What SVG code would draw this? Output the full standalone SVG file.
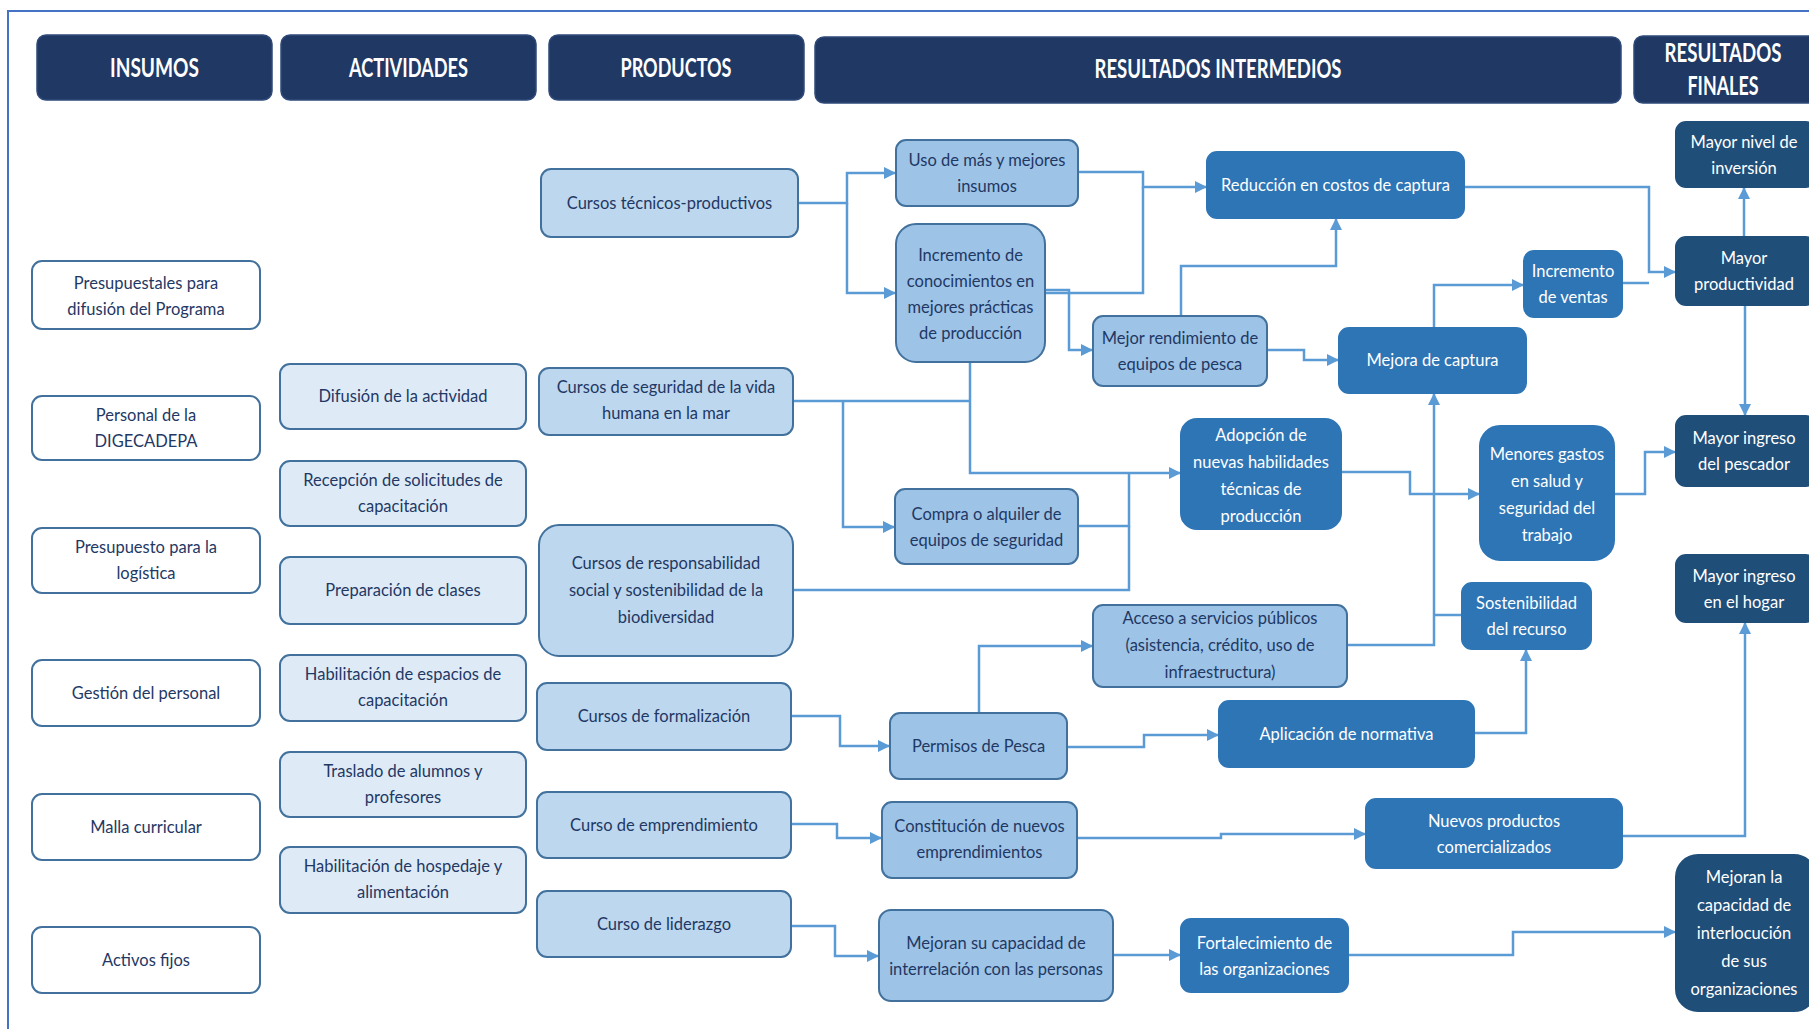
<svg xmlns="http://www.w3.org/2000/svg" width="1809" height="1029" viewBox="0 0 1809 1029">
<defs>
<style>
.hdr{fill:#203864;stroke:#2f4a7a;stroke-width:1.5}
.ht{font-family:Lato,"Liberation Sans",sans-serif;font-weight:700;font-size:26px;fill:#ffffff;text-anchor:middle}
.ins{fill:#ffffff;stroke:#41719C;stroke-width:2}
.act{fill:#DEEBF7;stroke:#41719C;stroke-width:2}
.pro{fill:#BDD7EE;stroke:#41719C;stroke-width:2}
.ril{fill:#9DC3E6;stroke:#41719C;stroke-width:2}
.rim{fill:#2E75B6;stroke:#2E75B6;stroke-width:2}
.rf{fill:#1F4E79;stroke:#1F4E79;stroke-width:2}
.t{font-family:Lato,"Liberation Sans",sans-serif;font-size:16.5px;fill:#1F3864;text-anchor:middle}
.tw{font-family:Lato,"Liberation Sans",sans-serif;font-size:16.5px;fill:#ffffff;text-anchor:middle}
.c{fill:none;stroke:#5B9BD5;stroke-width:2.5}
.ca{fill:none;stroke:#5B9BD5;stroke-width:2.5;marker-end:url(#arr)}
</style>
<marker id="arr" viewBox="0 0 10 10" refX="10" refY="5" markerWidth="12" markerHeight="12" markerUnits="userSpaceOnUse" orient="auto">
<path d="M0,0 L10,5 L0,10 z" fill="#5B9BD5"/>
</marker>
</defs>
<rect x="0" y="0" width="1809" height="1029" fill="#ffffff"/>
<rect x="8" y="11" width="1900" height="1100" fill="none" stroke="#4472C4" stroke-width="2"/>

<!-- headers -->
<g id="h-insumos"><rect class="hdr" x="37" y="35" width="235" height="65" rx="9"/><text class="ht" x="154.5" y="77" textLength="89" lengthAdjust="spacingAndGlyphs">INSUMOS</text></g>
<g id="h-actividades"><rect class="hdr" x="281" y="35" width="255" height="65" rx="9"/><text class="ht" x="408.5" y="77" textLength="119" lengthAdjust="spacingAndGlyphs">ACTIVIDADES</text></g>
<g id="h-productos"><rect class="hdr" x="549" y="35" width="255" height="65" rx="9"/><text class="ht" x="676" y="77" textLength="111" lengthAdjust="spacingAndGlyphs">PRODUCTOS</text></g>
<g id="h-intermedios"><rect class="hdr" x="815" y="37" width="806" height="66" rx="9"/><text class="ht" x="1218" y="78" textLength="247" lengthAdjust="spacingAndGlyphs">RESULTADOS INTERMEDIOS</text></g>
<g id="h-finales"><rect class="hdr" x="1634" y="36" width="190" height="67" rx="9"/><text class="ht" x="1723" y="62" textLength="117" lengthAdjust="spacingAndGlyphs">RESULTADOS</text><text class="ht" x="1723" y="95" textLength="71" lengthAdjust="spacingAndGlyphs">FINALES</text></g>

<!-- connectors -->
<g id="connectors">
<path class="ca" d="M798,203 H847 V173 H896"/>
<path class="ca" d="M847,203 V293 H896"/>
<path class="ca" d="M1078,172 H1143 V187 H1207"/>
<path class="c" d="M1045,293 H1143 V187"/>
<path class="ca" d="M1045,290 H1069 V350 H1093"/>
<path class="ca" d="M1181,316 V266 H1336 V218"/>
<path class="ca" d="M1267,350 H1304 V360 H1339"/>
<path class="ca" d="M1434,328 V285 H1524"/>
<path class="ca" d="M1464,187 H1649 V272 H1676"/>
<path class="c" d="M1622,283 H1649"/>
<path class="ca" d="M1744,237 V187"/>
<path class="ca" d="M1745,305 V416"/>
<path class="ca" d="M970,362 V473 H1181"/>
<path class="c" d="M793,401 H970"/>
<path class="ca" d="M843,401 V527 H895"/>
<path class="c" d="M1078,526 H1129 V473"/>
<path class="c" d="M793,590 H1129 V526"/>
<path class="ca" d="M1341,472 H1410 V494 H1480"/>
<path class="ca" d="M1614,494 H1645 V452 H1676"/>
<path class="ca" d="M1347,645 H1434 V393"/>
<path class="c" d="M1462,615 H1434"/>
<path class="ca" d="M979,713 V646 H1093"/>
<path class="ca" d="M791,716 H840 V746 H890"/>
<path class="ca" d="M1067,747 H1144 V735 H1219"/>
<path class="ca" d="M1474,733 H1526 V649"/>
<path class="ca" d="M791,824 H837 V838 H882"/>
<path class="ca" d="M1077,838 H1221 V834 H1366"/>
<path class="ca" d="M1622,836 H1745 V622"/>
<path class="ca" d="M791,926 H835 V956 H879"/>
<path class="ca" d="M1113,955 H1181"/>
<path class="ca" d="M1348,955 H1513 V932 H1676"/>
</g>

<!-- insumos -->
<g id="n-presupuestales"><rect class="ins" x="32" y="261" width="228" height="68" rx="10"/><text class="t" x="146" y="289">Presupuestales para</text><text class="t" x="146" y="315">difusión del Programa</text></g>
<g id="n-personal"><rect class="ins" x="32" y="396" width="228" height="64" rx="10"/><text class="t" x="146" y="421">Personal de la</text><text class="t" x="146" y="447">DIGECADEPA</text></g>
<g id="n-presupuesto"><rect class="ins" x="32" y="528" width="228" height="65" rx="10"/><text class="t" x="146" y="553">Presupuesto para la</text><text class="t" x="146" y="579">logística</text></g>
<g id="n-gestion"><rect class="ins" x="32" y="660" width="228" height="66" rx="10"/><text class="t" x="146" y="699">Gestión del personal</text></g>
<g id="n-malla"><rect class="ins" x="32" y="794" width="228" height="66" rx="10"/><text class="t" x="146" y="833">Malla curricular</text></g>
<g id="n-activos"><rect class="ins" x="32" y="927" width="228" height="66" rx="10"/><text class="t" x="146" y="966">Activos fijos</text></g>

<!-- actividades -->
<g id="n-difusion"><rect class="act" x="280" y="364" width="246" height="65" rx="10"/><text class="t" x="403" y="402">Difusión de la actividad</text></g>
<g id="n-recepcion"><rect class="act" x="280" y="461" width="246" height="65" rx="10"/><text class="t" x="403" y="486">Recepción de solicitudes de</text><text class="t" x="403" y="512">capacitación</text></g>
<g id="n-preparacion"><rect class="act" x="280" y="557" width="246" height="67" rx="10"/><text class="t" x="403" y="596">Preparación de clases</text></g>
<g id="n-espacios"><rect class="act" x="280" y="655" width="246" height="66" rx="10"/><text class="t" x="403" y="680">Habilitación de espacios de</text><text class="t" x="403" y="706">capacitación</text></g>
<g id="n-traslado"><rect class="act" x="280" y="752" width="246" height="65" rx="10"/><text class="t" x="403" y="777">Traslado de alumnos y</text><text class="t" x="403" y="803">profesores</text></g>
<g id="n-hospedaje"><rect class="act" x="280" y="847" width="246" height="66" rx="10"/><text class="t" x="403" y="872">Habilitación de hospedaje y</text><text class="t" x="403" y="898">alimentación</text></g>

<!-- productos -->
<g id="n-tecnicos"><rect class="pro" x="541" y="169" width="257" height="68" rx="10"/><text class="t" x="669.5" y="209">Cursos técnicos-productivos</text></g>
<g id="n-seguridad"><rect class="pro" x="539" y="368" width="254" height="67" rx="10"/><text class="t" x="666" y="393">Cursos de seguridad de la vida</text><text class="t" x="666" y="419">humana en la mar</text></g>
<g id="n-responsabilidad"><rect class="pro" x="539" y="525" width="254" height="131" rx="20"/><text class="t" x="666" y="569">Cursos de responsabilidad</text><text class="t" x="666" y="596">social y sostenibilidad de la</text><text class="t" x="666" y="623">biodiversidad</text></g>
<g id="n-formalizacion"><rect class="pro" x="537" y="683" width="254" height="67" rx="10"/><text class="t" x="664" y="722">Cursos de formalización</text></g>
<g id="n-emprendimiento"><rect class="pro" x="537" y="792" width="254" height="66" rx="10"/><text class="t" x="664" y="831">Curso de emprendimiento</text></g>
<g id="n-liderazgo"><rect class="pro" x="537" y="891" width="254" height="66" rx="10"/><text class="t" x="664" y="930">Curso de liderazgo</text></g>

<!-- intermedios claros -->
<g id="n-uso"><rect class="ril" x="896" y="140" width="182" height="66" rx="10"/><text class="t" x="987" y="166">Uso de más y mejores</text><text class="t" x="987" y="192">insumos</text></g>
<g id="n-incremento-con"><rect class="ril" x="896" y="224" width="149" height="138" rx="20"/><text class="t" x="970.5" y="261">Incremento de</text><text class="t" x="970.5" y="287">conocimientos en</text><text class="t" x="970.5" y="313">mejores prácticas</text><text class="t" x="970.5" y="339">de producción</text></g>
<g id="n-rendimiento"><rect class="ril" x="1093" y="316" width="174" height="70" rx="10"/><text class="t" x="1180" y="344">Mejor rendimiento de</text><text class="t" x="1180" y="370">equipos de pesca</text></g>
<g id="n-compra"><rect class="ril" x="895" y="489" width="183" height="75" rx="10"/><text class="t" x="986.5" y="520">Compra o alquiler de</text><text class="t" x="986.5" y="546">equipos de seguridad</text></g>
<g id="n-acceso"><rect class="ril" x="1093" y="605" width="254" height="82" rx="10"/><text class="t" x="1220" y="624">Acceso a servicios públicos</text><text class="t" x="1220" y="651">(asistencia, crédito, uso de</text><text class="t" x="1220" y="678">infraestructura)</text></g>
<g id="n-permisos"><rect class="ril" x="890" y="713" width="177" height="66" rx="10"/><text class="t" x="978.5" y="752">Permisos de Pesca</text></g>
<g id="n-constitucion"><rect class="ril" x="882" y="802" width="195" height="76" rx="10"/><text class="t" x="979.5" y="832">Constitución de nuevos</text><text class="t" x="979.5" y="858">emprendimientos</text></g>
<g id="n-interrelacion"><rect class="ril" x="879" y="910" width="234" height="91" rx="12"/><text class="t" x="996" y="949">Mejoran su capacidad de</text><text class="t" x="996" y="975">interrelación con las personas</text></g>

<!-- intermedios medios -->
<g id="n-reduccion"><rect class="rim" x="1207" y="152" width="257" height="66" rx="10"/><text class="tw" x="1335.5" y="191">Reducción en costos de captura</text></g>
<g id="n-mejora"><rect class="rim" x="1339" y="328" width="187" height="65" rx="10"/><text class="tw" x="1432.5" y="366">Mejora de captura</text></g>
<g id="n-ventas"><rect class="rim" x="1524" y="251" width="98" height="66" rx="10"/><text class="tw" x="1573" y="277">Incremento</text><text class="tw" x="1573" y="303">de ventas</text></g>
<g id="n-adopcion"><rect class="rim" x="1181" y="419" width="160" height="110" rx="16"/><text class="tw" x="1261" y="441">Adopción de</text><text class="tw" x="1261" y="468">nuevas habilidades</text><text class="tw" x="1261" y="495">técnicas de</text><text class="tw" x="1261" y="522">producción</text></g>
<g id="n-menores"><rect class="rim" x="1480" y="426" width="134" height="134" rx="20"/><text class="tw" x="1547" y="460">Menores gastos</text><text class="tw" x="1547" y="487">en salud y</text><text class="tw" x="1547" y="514">seguridad del</text><text class="tw" x="1547" y="541">trabajo</text></g>
<g id="n-sostenibilidad"><rect class="rim" x="1462" y="583" width="129" height="66" rx="10"/><text class="tw" x="1526.5" y="609">Sostenibilidad</text><text class="tw" x="1526.5" y="635">del recurso</text></g>
<g id="n-aplicacion"><rect class="rim" x="1219" y="701" width="255" height="66" rx="10"/><text class="tw" x="1346.5" y="740">Aplicación de normativa</text></g>
<g id="n-nuevos"><rect class="rim" x="1366" y="799" width="256" height="69" rx="10"/><text class="tw" x="1494" y="827">Nuevos productos</text><text class="tw" x="1494" y="853">comercializados</text></g>
<g id="n-fortalecimiento"><rect class="rim" x="1181" y="919" width="167" height="73" rx="10"/><text class="tw" x="1264.5" y="949">Fortalecimiento de</text><text class="tw" x="1264.5" y="975">las organizaciones</text></g>

<!-- finales -->
<g id="n-inversion"><rect class="rf" x="1676" y="122" width="140" height="65" rx="10"/><text class="tw" x="1744" y="148">Mayor nivel de</text><text class="tw" x="1744" y="174">inversión</text></g>
<g id="n-productividad"><rect class="rf" x="1676" y="237" width="140" height="68" rx="10"/><text class="tw" x="1744" y="264">Mayor</text><text class="tw" x="1744" y="290">productividad</text></g>
<g id="n-ingreso-pescador"><rect class="rf" x="1676" y="416" width="140" height="70" rx="10"/><text class="tw" x="1744" y="444">Mayor ingreso</text><text class="tw" x="1744" y="470">del pescador</text></g>
<g id="n-ingreso-hogar"><rect class="rf" x="1676" y="555" width="140" height="67" rx="10"/><text class="tw" x="1744" y="582">Mayor ingreso</text><text class="tw" x="1744" y="608">en el hogar</text></g>
<g id="n-interlocucion"><rect class="rf" x="1676" y="855" width="140" height="156" rx="22"/><text class="tw" x="1744" y="883">Mejoran la</text><text class="tw" x="1744" y="911">capacidad de</text><text class="tw" x="1744" y="939">interlocución</text><text class="tw" x="1744" y="967">de sus</text><text class="tw" x="1744" y="995">organizaciones</text></g>
</svg>
